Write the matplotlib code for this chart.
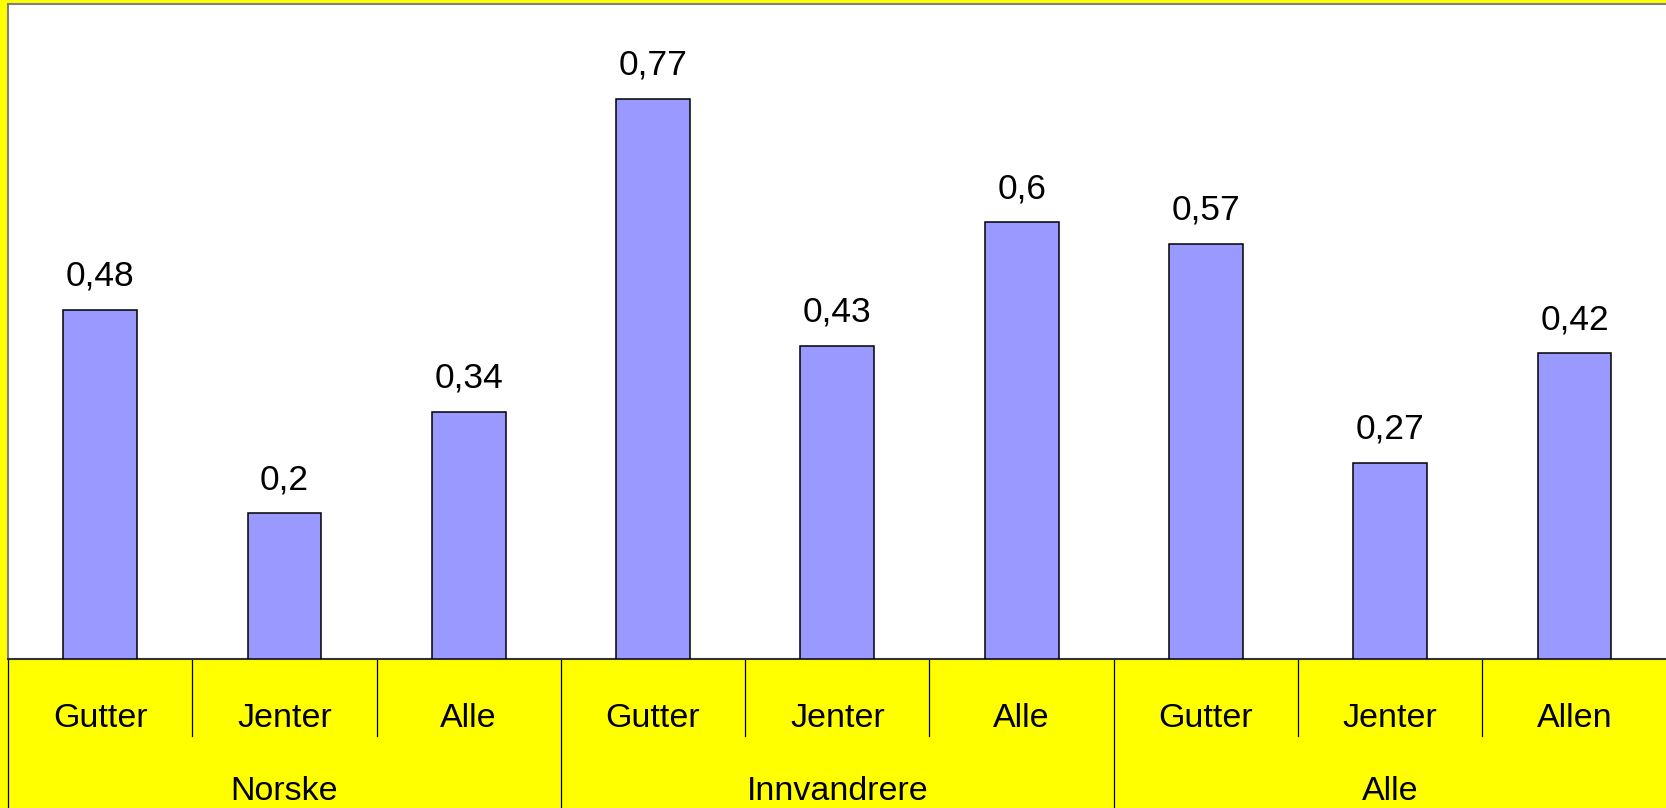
import matplotlib
matplotlib.use("Agg")
import matplotlib.pyplot as plt
import matplotlib.transforms as mtransforms

plt.rcParams['font.family'] = ['Liberation Sans', 'DejaVu Sans']

# data
groups = ["Norske", "Innvandrere", "Alle"]
subcats = ["Gutter", "Jenter", "Alle", "Gutter", "Jenter", "Alle", "Gutter", "Jenter", "Allen"]
values = [0.48, 0.2, 0.34, 0.77, 0.43, 0.6, 0.57, 0.27, 0.42]
per_group = 3

W, H = 1666, 808
fig = plt.figure(figsize=(W / 100, H / 100), dpi=100, facecolor="#FFFF00")

# axes placed in pixels: left 8, top 4, baseline at 659
left, top, base = 8, 4, 659
cat_w = 184.3
ax = fig.add_axes([left / W, (H - base) / H, len(values) * cat_w / W, (base - top) / H])
ax.set_facecolor("white")

x = list(range(len(values)))
ax.bar(x, values, width=0.4, color="#9999FF", edgecolor="black", linewidth=1.1, zorder=3)

# value labels above bars, comma decimal
for xi, v in zip(x, values):
    ax.annotate(str(v).replace(".", ","), (xi, v), xytext=(0, 17.5), textcoords="offset points",
                ha="center", va="baseline", fontsize=25.5)

ax.set_xlim(-0.5, len(values) - 0.5)
ax.set_ylim(0, 0.9)
ax.set_xticks([])
ax.set_yticks([])

for s in ["top", "left"]:
    ax.spines[s].set_color("#7f7f7f")
    ax.spines[s].set_linewidth(1.5)
ax.spines["bottom"].set_color("#333333")
ax.spines["bottom"].set_linewidth(1.5)
ax.spines["right"].set_visible(False)

# two-level category axis drawn under the plot
trans = mtransforms.blended_transform_factory(ax.transData, ax.transAxes)
ax_h = base - top
sub_bottom = -(736 - base) / ax_h
grp_bottom = -(H - base + 5) / ax_h

for i in range(len(values) + 1):
    b = i - 0.5
    if i % per_group == 0:
        ax.plot([b, b], [0, grp_bottom], transform=trans, color="black", lw=0.9, clip_on=False)
    else:
        ax.plot([b, b], [0, sub_bottom], transform=trans, color="black", lw=0.9, clip_on=False)

for xi, lab in zip(x, subcats):
    ax.text(xi, -(727 - base) / ax_h, lab, transform=trans, ha="center", va="baseline", fontsize=24.5)

for g, name in enumerate(groups):
    cx = g * per_group + (per_group - 1) / 2
    ax.text(cx, -(800 - base) / ax_h, name, transform=trans, ha="center", va="baseline", fontsize=24.5)

plt.savefig("out.png", dpi=100, facecolor=fig.get_facecolor())
